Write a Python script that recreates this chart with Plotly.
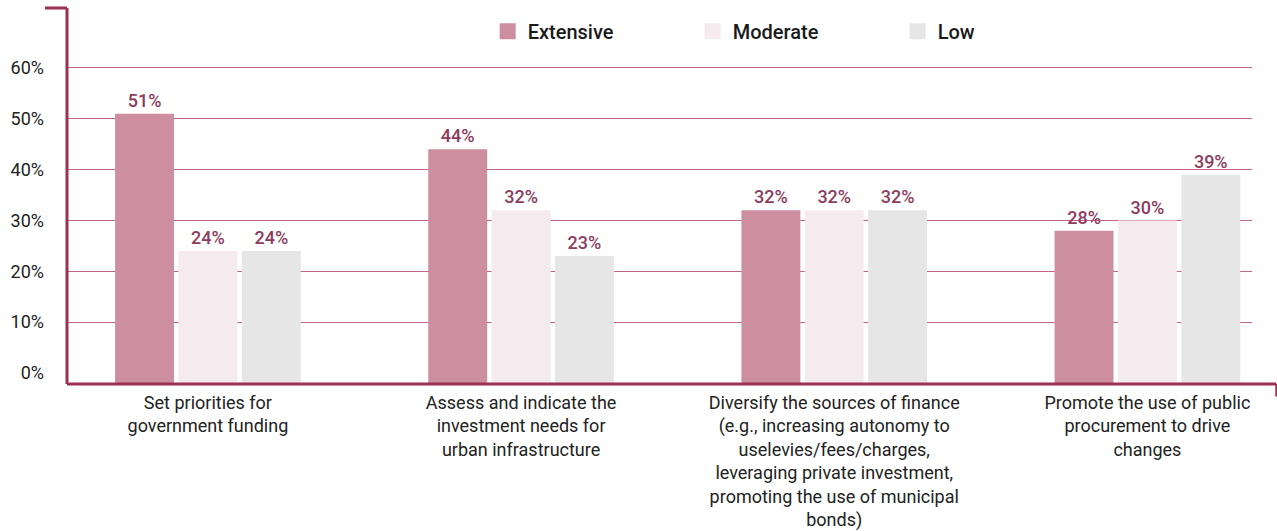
import plotly.graph_objects as go

# Survey results: share of respondents by level of use
categories = [
    "Set priorities for<br>government funding",
    "Assess and indicate the<br>investment needs for<br>urban infrastructure",
    "Diversify the sources of finance<br>(e.g., increasing autonomy to<br>uselevies/fees/charges,<br>leveraging private investment,<br>promoting the use of municipal<br>bonds)",
    "Promote the use of public<br>procurement to drive<br>changes",
]
extensive = [51, 44, 32, 28]
moderate = [24, 32, 32, 30]
low = [24, 23, 32, 39]

series_names = ["Extensive", "Moderate", "Low"]
series_values = [extensive, moderate, low]
series_colors = ["#cd8ea0", "#f5eaee", "#e6e6e6"]

y_ticks = [0, 10, 20, 30, 40, 50, 60]
y_tick_text = [f"{v}%" for v in y_ticks]

# Value axis starts slightly below zero; bars are anchored to the axis floor
Y_MIN = -2.16
Y_MAX = 71.8

FRAME = "#9e2f52"
GRID = "#c26482"
LABEL = "#8c3d5e"
FONT = "Roboto"

fig = go.Figure()

for name, vals, color in zip(series_names, series_values, series_colors):
    fig.add_trace(go.Bar(
        name=name,
        x=categories,
        y=[v - Y_MIN for v in vals],
        base=Y_MIN,
        marker=dict(color=color, line=dict(width=0)),
        text=[f"{v}%" for v in vals],
        textposition="outside",
        textfont=dict(family=FONT, size=18, color=LABEL, weight=500),
        cliponaxis=False,
        showlegend=False,
        hovertemplate="%{x}: %{text}<extra>" + name + "</extra>",
    ))
    # legend entry with a larger square swatch
    fig.add_trace(go.Scatter(
        name=name,
        x=[None], y=[None],
        mode="markers",
        marker=dict(symbol="square", size=18, color=color),
        showlegend=True,
    ))

fig.update_layout(
    width=1277,
    height=531,
    margin=dict(l=67, r=25, t=8, b=147),
    paper_bgcolor="white",
    plot_bgcolor="white",
    barmode="group",
    bargap=0.393,
    bargroupgap=0.07,
    font=dict(family=FONT, size=18, color="#222222"),
    legend=dict(
        orientation="h",
        x=0.355, y=0.99,
        xanchor="left", yanchor="top",
        entrywidth=160,
        entrywidthmode="pixels",
        font=dict(family=FONT, size=20, color="#1a1a1a", weight=500),
        itemsizing="trace",
        bgcolor="rgba(0,0,0,0)",
    ),
    xaxis=dict(
        type="category",
        range=[-0.45, 3.334],
        automargin=False,
        showgrid=False,
        showline=False,
        ticks="",
        ticklabelstandoff=6,
        tickfont=dict(family=FONT, size=18, color="#222222"),
        fixedrange=True,
    ),
    yaxis=dict(
        range=[Y_MIN, Y_MAX],
        automargin=False,
        tickmode="array",
        tickvals=y_ticks,
        ticktext=y_tick_text,
        showgrid=True,
        gridcolor=GRID,
        gridwidth=1,
        zeroline=True,
        zerolinecolor="rgba(0,0,0,0)",
        showline=False,
        ticks="",
        ticklabelstandoff=22,
        tickfont=dict(family=FONT, size=18, color="#222222"),
        fixedrange=True,
    ),
    shapes=[
        # left bracket: short cap at top, then vertical axis line
        dict(type="line", xref="paper", yref="paper", x0=-0.0186, x1=0, y0=1, y1=1,
             line=dict(color=FRAME, width=3)),
        dict(type="line", xref="paper", yref="paper", x0=0, x1=0, y0=1, y1=0,
             line=dict(color=FRAME, width=3)),
        # baseline running to the right edge with a small drop at its end
        dict(type="line", xref="paper", yref="paper", x0=0, x1=1.0205, y0=0, y1=0,
             line=dict(color=FRAME, width=3)),
        dict(type="line", xref="paper", yref="paper", x0=1.0205, x1=1.0205, y0=0, y1=-0.033,
             line=dict(color=FRAME, width=2)),
    ],
)

fig.write_html("out.html")
